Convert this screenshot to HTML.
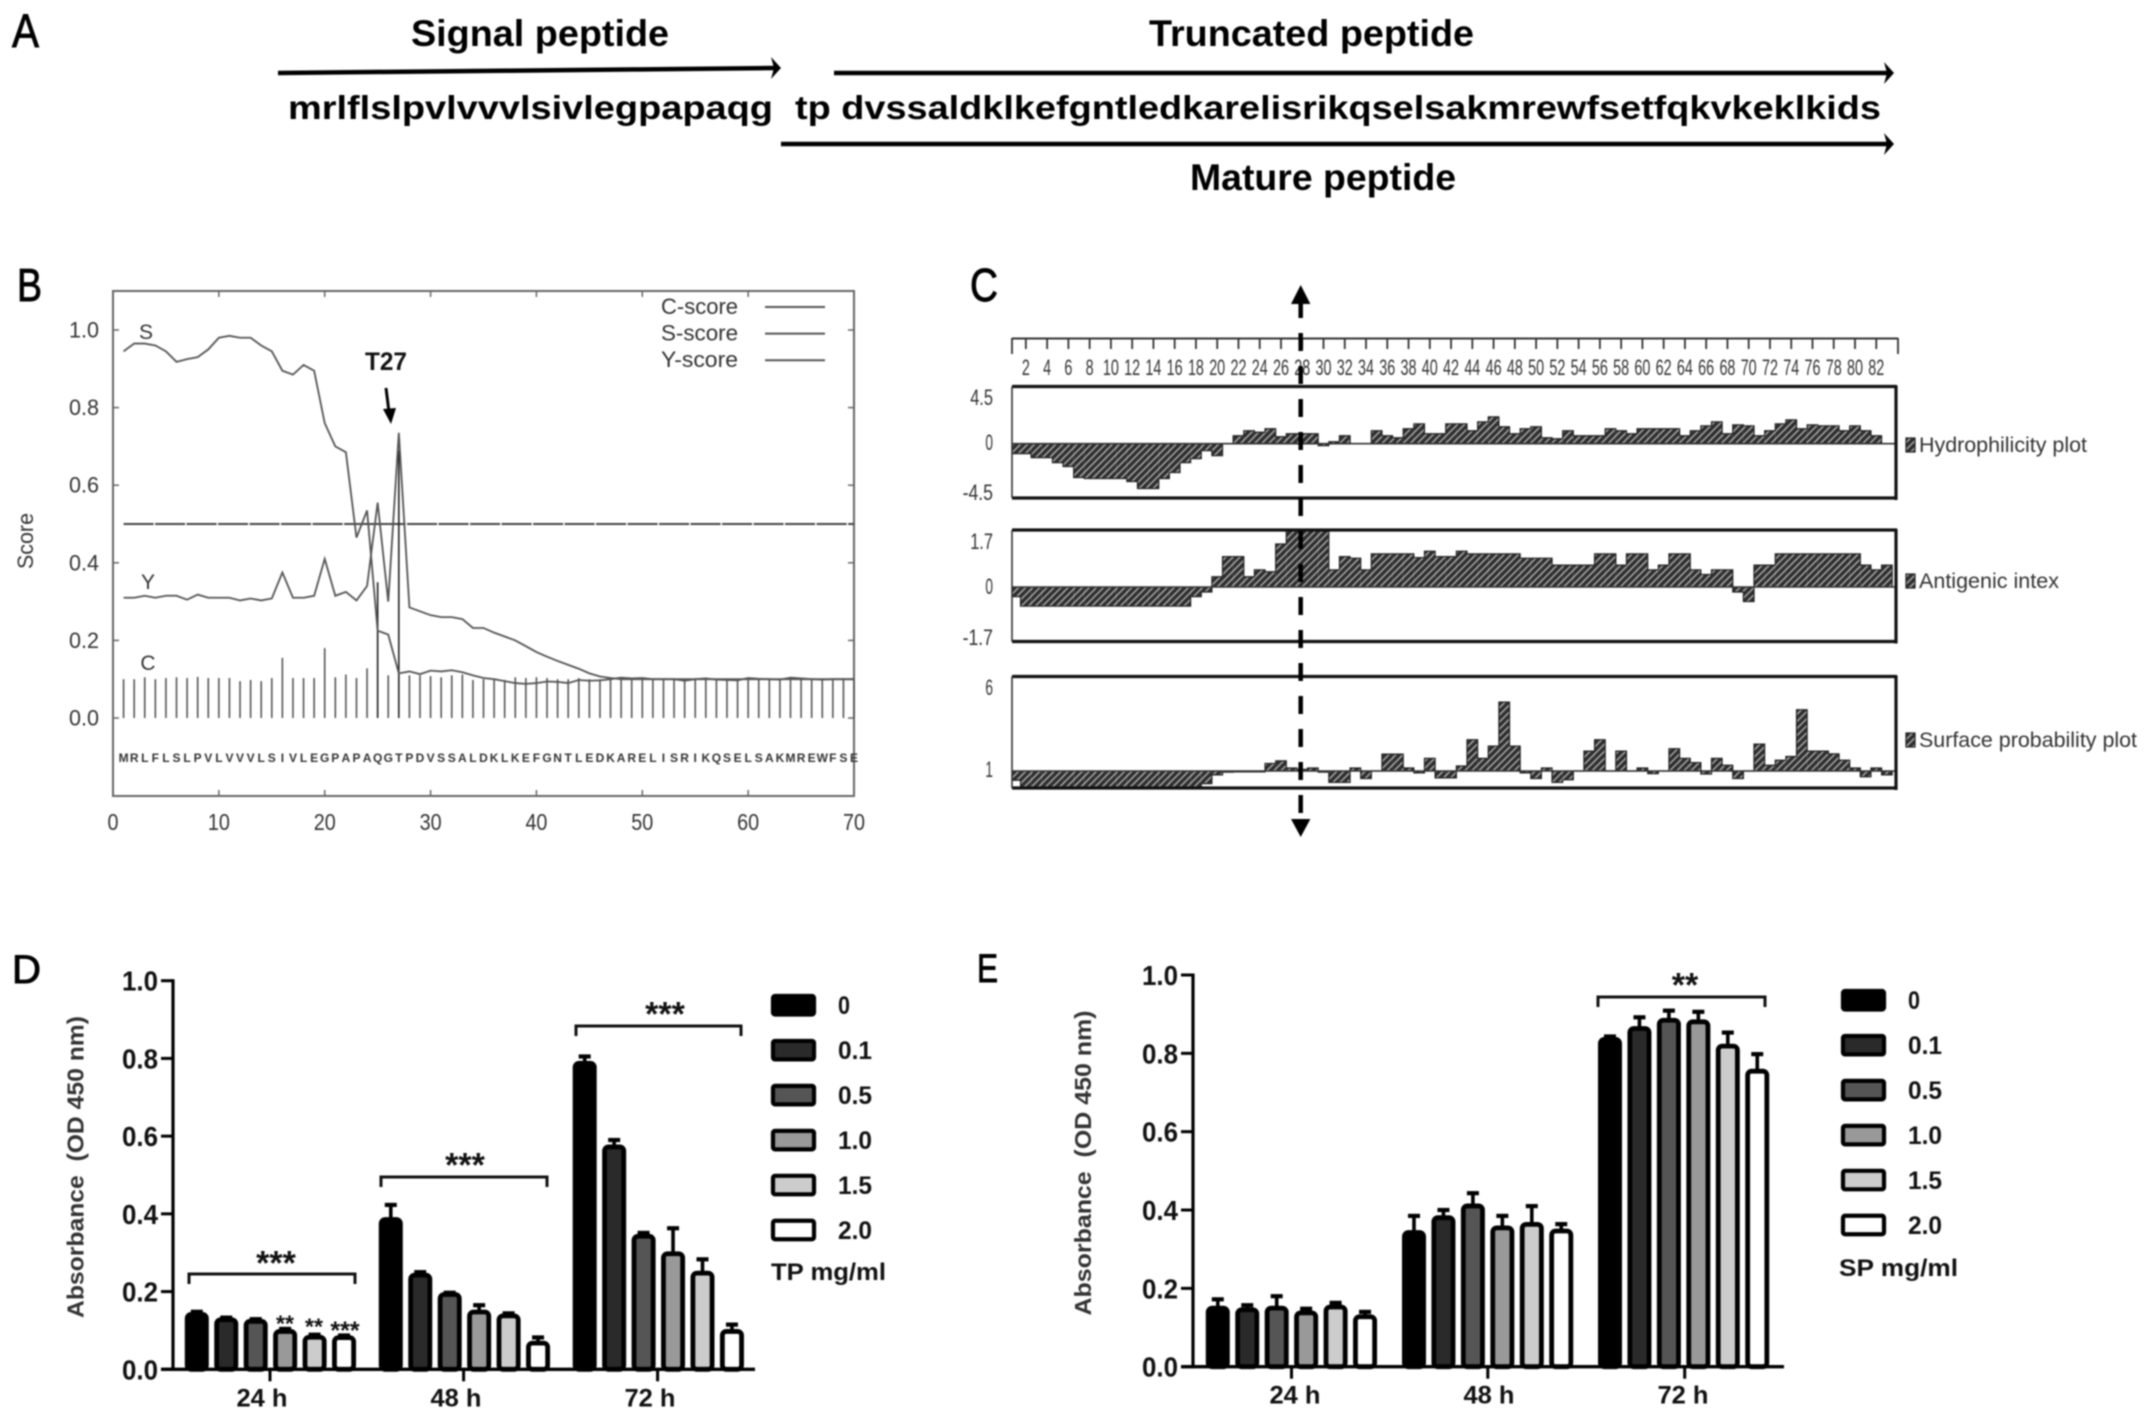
<!DOCTYPE html>
<html lang="en">
<head>
<meta charset="utf-8">
<title>Peptide analysis figure</title>
<style>
html,body{margin:0;padding:0;background:#fff;}
body{width:2150px;height:1421px;overflow:hidden;}
svg{display:block;filter:blur(0.7px);}
text{font-family:"Liberation Sans",sans-serif;}
</style>
</head>
<body>
<svg id="fig" xmlns="http://www.w3.org/2000/svg" width="2150" height="1421" viewBox="0 0 2150 1421">
<defs>
<pattern id="hatch" width="5" height="5" patternUnits="userSpaceOnUse" patternTransform="rotate(45)">
<rect width="5" height="5" fill="#2e2e2e"></rect>
<rect x="0" y="0" width="1.5" height="5" fill="#a8a8a8"></rect>
</pattern>
</defs>
<rect width="2150" height="1421" fill="#fff"></rect>

<g id="panel-a" fill="#000">
<text x="12" y="47" font-size="47" stroke="#000" stroke-width="0.9" textLength="27" lengthAdjust="spacingAndGlyphs">A</text>
<text x="411" y="46" font-size="37" font-weight="bold" textLength="258" lengthAdjust="spacingAndGlyphs">Signal peptide</text>
<text x="1149" y="46" font-size="37" font-weight="bold" textLength="325" lengthAdjust="spacingAndGlyphs">Truncated peptide</text>
<text x="1190" y="190" font-size="37" font-weight="bold" textLength="266" lengthAdjust="spacingAndGlyphs">Mature peptide</text>
<text x="288" y="119" font-size="33" font-weight="bold" textLength="485" lengthAdjust="spacingAndGlyphs">mrlflslpvlvvvlsivlegpapaqg</text>
<text x="795" y="119" font-size="33" font-weight="bold" textLength="1086" lengthAdjust="spacingAndGlyphs">tp dvssaldklkefgntledkarelisrikqselsakmrewfsetfqkvkeklkids</text>
<g>
<line x1="278" y1="73" x2="776" y2="68" stroke="#000" stroke-width="4.5"></line>
<polygon points="781,68 771,57 774,68 771,79"></polygon>
</g>
<g>
<line x1="834" y1="73" x2="1888" y2="73" stroke="#000" stroke-width="4.5"></line>
<polygon points="1894,73 1884,62 1887,73 1884,84"></polygon>
</g>
<g>
<line x1="781" y1="144" x2="1888" y2="144" stroke="#000" stroke-width="4.5"></line>
<polygon points="1894,144 1884,133 1887,144 1884,155"></polygon>
</g>
</g>

<g id="panel-b"></g>
<g id="panel-c"></g>
<g id="panel-d"></g>
<g id="panel-e"></g>
</svg>

<script>
/* ---------- Panel B data ---------- */
const bPositions = [1,2,3,4,5,6,7,8,9,10,11,12,13,14,15,16,17,18,19,20,21,22,23,24,25,26,27,28,29,30,31,32,33,34,35,36,37,38,39,40,41,42,43,44,45,46,47,48,49,50,51,52,53,54,55,56,57,58,59,60,61,62,63,64,65,66,67,68,69,70];
const bSScore = [.945,.965,.965,.96,.945,.918,.925,.93,.95,.98,.985,.98,.98,.96,.945,.895,.885,.91,.895,.76,.70,.685,.465,.535,.225,.215,.115,.12,.113,.122,.12,.123,.118,.11,.103,.10,.095,.09,.088,.09,.094,.093,.09,.098,.096,.097,.10,.104,.102,.103,.10,.10,.10,.096,.10,.102,.099,.098,.097,.103,.101,.10,.099,.104,.102,.10,.099,.10,.10,.10];
const bYScore = [.31,.31,.315,.31,.315,.315,.305,.318,.31,.31,.31,.303,.308,.303,.308,.375,.31,.31,.315,.41,.315,.325,.303,.34,.555,.30,.735,.285,.275,.265,.26,.26,.255,.232,.232,.22,.21,.20,.185,.17,.158,.147,.137,.127,.115,.107,.103,.10,.10,.10,.10,.10,.10,.10,.10,.10,.10,.10,.10,.10,.10,.10,.10,.10,.10,.10,.10,.10,.10,.10];
const bCScore = [.10,.10,.105,.10,.103,.105,.103,.106,.103,.103,.103,.095,.098,.095,.103,.155,.103,.103,.103,.18,.105,.112,.103,.128,.35,.11,.69,.11,.11,.108,.105,.11,.112,.098,.10,.10,.098,.105,.103,.105,.103,.10,.10,.103,.10,.10,.102,.10,.10,.103,.10,.10,.10,.098,.10,.10,.10,.10,.10,.10,.10,.10,.10,.10,.10,.10,.10,.10,.10,.10];
const bThreshold = [0.5];
const bXTicks = [0,10,20,30,40,50,60,70];
const bYTicks = [0,0.2,0.4,0.6,0.8,1.0];
const bResidues = "MRLFLSLPVLVVVLSIVLEGPAPAQGTPDVSSALDKLKEFGNTLEDKARELISRIKQSELSAKMREWFSE".split("");
const bLegend = ["C-score","S-score","Y-score"];

/* ---------- Panel C data ---------- */
const cRulerLabels = [2,4,6,8,10,12,14,16,18,20,22,24,26,28,30,32,34,36,38,40,42,44,46,48,50,52,54,56,58,60,62,64,66,68,70,72,74,76,78,80,82];
const cHydro = [-1,-1,-1.4,-1.4,-1.9,-2.3,-3.4,-3.5,-3.5,-3.5,-3.5,-3.8,-4.5,-4.5,-3.5,-2.9,-1.9,-1.5,-.7,-1.2,0,.8,1.3,1.15,1.5,.7,1,1,1,-.2,.2,.8,0,0,1.3,.8,.6,1.5,2,1,1,2,2,1.3,2.2,2.7,1.7,1,1.5,1.7,.6,.5,1.3,.8,.8,.8,1.5,1.3,1,1.5,1.5,1.5,1.5,.8,1.3,1.8,2.2,1,1.9,1.8,.8,1.3,2,2.4,1.5,1.9,1.8,1.8,1.3,1.8,1.3,.8,0];
const cAntigenic = [-.29,-.58,-.58,-.58,-.58,-.58,-.58,-.58,-.58,-.58,-.58,-.58,-.58,-.58,-.58,-.58,-.58,-.29,-.15,.31,.92,.92,.31,.52,.46,1.3,1.7,1.7,1.7,1.7,.52,.92,.87,.52,1,1,1,1,.89,1.08,.92,.92,1.08,1,1,1,1,1,.87,.87,.87,.66,.66,.66,.66,1,1,.66,1,1,.52,.66,1,1,.52,.38,.52,.52,-.15,-.44,.66,.66,1,1,1,1,1,1,1,1,.66,.52,.66];
const cSurface = [.45,.02,.02,.02,.02,.02,.02,.02,.02,.02,.02,.02,.02,.02,.02,.02,.02,.02,.25,.77,.93,.95,.95,.95,1.45,1.6,1.18,1.1,1.18,.93,.32,.32,1.18,.55,1,2,2,1.18,.89,1.75,.59,.59,1.3,2.86,1.75,2.48,5.09,2.48,.89,.55,1.18,.32,.48,1,2.18,2.86,1,2.18,1,1.18,.84,1,2.32,1.75,1.5,.82,1.75,1.34,.55,1,2.6,1.34,1.64,1.86,4.64,2.18,2.18,2.02,1.64,1.18,.66,1.18,.77];
const cHydroTicks = [4.5,0,-4.5];
const cAntigenicTicks = [1.7,0,-1.7];
const cSurfaceTicks = [6,1];

/* ---------- Panel D / E data ---------- */
const timeLabels = ["24 h","48 h","72 h"];
const doseLabels = ["0","0.1","0.5","1.0","1.5","2.0"];
const doseFills = ["#000000","#2a2a2a","#555555","#999999","#cccccc","#ffffff"];
const barTicks = [0,0.2,0.4,0.6,0.8,1.0];

const dVals24 = [.144,.13,.126,.10,.085,.084];
const dVals48 = [.388,.245,.195,.15,.14,.07];
const dVals72 = [.79,.575,.345,.30,.25,.10];
const dErr24 = [.004,.003,.003,.004,.004,.003];
const dErr48 = [.035,.005,.002,.015,.004,.012];
const dErr72 = [.015,.015,.006,.063,.033,.015];

const eVals24 = [.152,.148,.152,.14,.155,.13];
const eVals48 = [.345,.383,.413,.357,.366,.349];
const eVals72 = [.838,.866,.887,.883,.821,.757];
const eErr24 = [.02,.009,.028,.008,.008,.01];
const eErr48 = [.04,.017,.03,.028,.044,.015];
const eErr72 = [.005,.026,.022,.023,.032,.041];

const NS = "http://www.w3.org/2000/svg";
function mk(parent, tag, attrs, content){
  const n = document.createElementNS(NS, tag);
  for (const k in attrs) n.setAttribute(k, attrs[k]);
  if (content !== undefined) n.textContent = content;
  parent.appendChild(n);
  return n;
}
function fmt(v){ return v.toFixed(1); }

/* ---------- Panel B ---------- */
(function(){
  const g = document.getElementById("panel-b");
  const x = v => 113 + v * 10.586;
  const y = v => 718 - v * 388;
  const GREY = "#555";

  const letter = mk(g,"text",{x:17,y:301,"font-size":46,stroke:"#000","stroke-width":0.9,textLength:25,lengthAdjust:"spacingAndGlyphs",fill:"#000"},"B");
  
  

  const frame = mk(g,"rect",{x:113,y:291,width:741,height:505,fill:"none",stroke:"#666","stroke-width":2});
  
  

  bXTicks.forEach(t=>{
    const a = mk(g,"line",{x1:x(t),x2:x(t),y1:796,y2:790,stroke:"#666","stroke-width":1.5});
    
    
    const a2 = mk(g,"line",{x1:x(t),x2:x(t),y1:291,y2:297,stroke:"#666","stroke-width":1.5});
    
    
    const l = mk(g,"text",{x:x(t),y:830,"font-size":23,"text-anchor":"middle",fill:"#333",textLength:t===0?11:22,lengthAdjust:"spacingAndGlyphs"},String(t));
    
    
  });
  bYTicks.forEach(t=>{
    const a = mk(g,"line",{x1:113,x2:119,y1:y(t),y2:y(t),stroke:"#666","stroke-width":1.5});
    
    
    const a2 = mk(g,"line",{x1:854,x2:848,y1:y(t),y2:y(t),stroke:"#666","stroke-width":1.5});
    
    
    const l = mk(g,"text",{x:99,y:y(t)+7.5,"font-size":22,"text-anchor":"end",fill:"#333",textLength:30,lengthAdjust:"spacingAndGlyphs"},fmt(t));
    
    
  });

  const yt = mk(g,"text",{x:26,y:548,"font-size":22,"text-anchor":"middle",fill:"#333",transform:"rotate(-90 26 541)",textLength:56,lengthAdjust:"spacingAndGlyphs"},"Score");
  
  

  bThreshold.forEach(t=>{
    const l = mk(g,"line",{x1:x(1),x2:x(70),y1:y(t),y2:y(t),stroke:"#444","stroke-width":2,"stroke-dasharray":"30 1.5"});
    
    
  });

  bCScore.forEach((v,i)=>{
    const s = mk(g,"line",{x1:x(bPositions[i]),x2:x(bPositions[i]),y1:y(0),y2:y(v),stroke:v>.3?"#222":"#555","stroke-width":1.6});
    
    
  });

  const sLine = mk(g,"polyline",{fill:"none",stroke:GREY,"stroke-width":1.8,points:bSScore.map((v,i)=>x(bPositions[i])+","+y(v)).join(" ")});
  
  
  const yLine = mk(g,"polyline",{fill:"none",stroke:GREY,"stroke-width":1.8,points:bYScore.map((v,i)=>x(bPositions[i])+","+y(v)).join(" ")});
  
  

  bResidues.forEach((c,i)=>{
    const t = mk(g,"text",{x:x(bPositions[i]),y:762,"font-size":12,"font-weight":"bold","text-anchor":"middle",fill:"#333"},c);
    
    
  });

  const lbS = mk(g,"text",{x:146,y:339,"font-size":21,"text-anchor":"middle",fill:"#333"},"S");
  
  
  const lbY = mk(g,"text",{x:148,y:589,"font-size":21,"text-anchor":"middle",fill:"#333"},"Y");
  
  
  const lbC = mk(g,"text",{x:148,y:670,"font-size":21,"text-anchor":"middle",fill:"#333"},"C");
  
  

  bLegend.forEach((name,i)=>{
    const ly = 307 + i * 26.6;
    const t = mk(g,"text",{x:661,y:ly+7,"font-size":22,fill:"#333",textLength:77,lengthAdjust:"spacingAndGlyphs"},name);
    
    
    const l = mk(g,"line",{x1:765,x2:825,y1:ly,y2:ly,stroke:GREY,"stroke-width":2});
    
    
  });

  const t27 = mk(g,"text",{x:386,y:370,"font-size":25,"font-weight":"bold","text-anchor":"middle",fill:"#111",textLength:42,lengthAdjust:"spacingAndGlyphs"},"T27");
  
  
  const ar = mk(g,"line",{x1:386,y1:388,x2:389,y2:412,stroke:"#000","stroke-width":3});
  
  
  const ah = mk(g,"polygon",{points:"391,424 383,409 396,408",fill:"#000"});
  
  
})();

/* ---------- Panel C ---------- */
(function(){
  const g = document.getElementById("panel-c");
  const xc = i => 1004.6 + 10.63 * i;

  const letter = mk(g,"text",{x:970,y:301,"font-size":46,stroke:"#000","stroke-width":0.9,textLength:28,lengthAdjust:"spacingAndGlyphs",fill:"#000"},"C");
  
  

  const rl = mk(g,"line",{x1:1012,x2:1898,y1:338.5,y2:338.5,stroke:"#333","stroke-width":2});
  
  
  [1012,1898].forEach(px=>{
    const e = mk(g,"line",{x1:px,x2:px,y1:338,y2:354,stroke:"#333","stroke-width":1.8});
    
    
  });
  cRulerLabels.forEach(n=>{
    const a = mk(g,"line",{x1:xc(n),x2:xc(n),y1:338,y2:349,stroke:"#333","stroke-width":1.8});
    
    
    const s = String(n);
    const t = mk(g,"text",{x:xc(n),y:375,"font-size":22,"text-anchor":"middle",fill:"#333",textLength:s.length>1?16:8,lengthAdjust:"spacingAndGlyphs"},s);
    
    
  });

  function plot(cfg){
    const top = cfg.top, bottom = cfg.bottom, y = cfg.y, base = cfg.base;
    const clip = mk(g,"clipPath",{id:cfg.id+"-clip"});
    mk(clip,"rect",{x:1012,y:top,width:884,height:bottom-top});
    const marks = mk(g,"g",{"clip-path":"url(#"+cfg.id+"-clip)"});
    
    
    let d = "M1012 "+base;
    cfg.values.forEach((v,i)=>{
      const n = i + 1;
      const h = y(v);
      const x0 = Math.max(1012, xc(n)-5.315);
      const x1 = xc(n)+5.315;
      const r = mk(marks,"rect",{x:x0,y:Math.min(h,base),width:x1-x0,height:Math.abs(h-base),fill:"url(#hatch)"});
      
      
      d += " L"+x0+" "+h+" L"+x1+" "+h;
    });
    d += " L"+(xc(cfg.values.length)+5.315)+" "+base;
    const o = mk(marks,"path",{d:d,fill:"none",stroke:"#222","stroke-width":1.2});
    
    
    const bl = mk(g,"line",{x1:1012,x2:1896,y1:base,y2:base,stroke:"#333","stroke-width":1.6});
    
    

    const tl = mk(g,"line",{x1:1012,x2:1897,y1:top,y2:top,stroke:"#111","stroke-width":3.2});
    
    
    const bo = mk(g,"line",{x1:1012,x2:1897,y1:bottom,y2:bottom,stroke:"#111","stroke-width":3.2});
    
    
    const le = mk(g,"line",{x1:1012,x2:1012,y1:top,y2:bottom,stroke:"#333","stroke-width":1.6});
    
    
    const ri = mk(g,"line",{x1:1896,x2:1896,y1:top-1,y2:bottom+2,stroke:"#111","stroke-width":3.2});
    
    

    cfg.ticks.forEach((t,i)=>{
      const s = String(t);
      const tx = mk(g,"text",{x:993,y:cfg.tickY[i]+8,"font-size":22,"text-anchor":"end",fill:"#333",textLength:s.length*7.6,lengthAdjust:"spacingAndGlyphs"},s);
      
      
    });

    const sw = mk(g,"rect",{x:1906,y:cfg.legendY-7,width:9,height:14,fill:"url(#hatch)",stroke:"#222","stroke-width":1.2});
    
    
    const lt = mk(g,"text",{x:1919,y:cfg.legendY+7,"font-size":21,fill:"#333",textLength:cfg.legendW,lengthAdjust:"spacingAndGlyphs"},cfg.legend);
    
    
  }

  plot({id:"hydrophilicity",values:cHydro,top:386.5,bottom:498,base:443.7,y:v=>443.7-v*9.95,ticks:cHydroTicks,tickY:[397,442,492],legend:"Hydrophilicity plot",legendY:445,legendW:168});
  plot({id:"antigenic",values:cAntigenic,top:530,bottom:641.5,base:587,y:v=>587-v*33.1,ticks:cAntigenicTicks,tickY:[541,586,637],legend:"Antigenic intex",legendY:581,legendW:140});
  plot({id:"surface",values:cSurface,top:676.5,bottom:788,base:771,y:v=>771-(v-1)*16.84,ticks:cSurfaceTicks,tickY:[687,769],legend:"Surface probability plot",legendY:740,legendW:218});

  const dash = mk(g,"line",{x1:1300.7,x2:1300.7,y1:300,y2:822,stroke:"#000","stroke-width":4.5,"stroke-dasharray":"18 15"});
  
  
  const up = mk(g,"polygon",{points:"1300.7,285 1291,304 1310.4,304",fill:"#000"});
  
  
  const dn = mk(g,"polygon",{points:"1300.7,837 1291,819 1310.4,819",fill:"#000"});
  
  
})();

/* ---------- Panels D & E ---------- */
function barPanel(cfg){
  const g = document.getElementById(cfg.gid);
  const y = v => cfg.y0 - v * cfg.unit;

  const letter = mk(g,"text",{x:cfg.letterX,y:cfg.letterY,"font-size":40,stroke:"#000","stroke-width":0.9,textLength:cfg.letterW,lengthAdjust:"spacingAndGlyphs",fill:"#000"},cfg.letter);
  
  

  cfg.groups.forEach((vals,gi)=>{
    vals.forEach((v,i)=>{
      const bx = cfg.groupX[gi] + i * 29.45;
      const cx = bx + 12;
      const top = y(v + cfg.errs[gi][i]);
      const st = mk(g,"line",{x1:cx,x2:cx,y1:y(v),y2:top,stroke:"#000","stroke-width":3.6});
      
      
      const cp = mk(g,"line",{x1:cx-6,x2:cx+6,y1:top,y2:top,stroke:"#000","stroke-width":4.2});
      
      
      const r = mk(g,"rect",{x:bx+2.4,y:y(v)+1,width:19.2,height:y(0)-y(v)-1,rx:4,fill:doseFills[i],stroke:"#000","stroke-width":4.8});
      
      
    });
  });

  const ya = mk(g,"line",{x1:cfg.axisX,x2:cfg.axisX,y1:y(1)-1.5,y2:y(0)+1.5,stroke:"#000","stroke-width":3.2});
  
  
  const xa = mk(g,"line",{x1:cfg.axisX-12,x2:cfg.axisEnd,y1:y(0),y2:y(0),stroke:"#000","stroke-width":3.4});
  
  

  barTicks.forEach(t=>{
    const a = mk(g,"line",{x1:cfg.axisX-12,x2:cfg.axisX,y1:y(t),y2:y(t),stroke:"#000","stroke-width":3});
    
    
    const l = mk(g,"text",{x:cfg.axisX-15,y:y(t)+10,"font-size":28,"font-weight":"bold","text-anchor":"end",fill:"#111",textLength:36,lengthAdjust:"spacingAndGlyphs"},fmt(t));
    
    
  });

  timeLabels.forEach((lab,i)=>{
    const a = mk(g,"line",{x1:cfg.tickX[i],x2:cfg.tickX[i],y1:y(0),y2:y(0)+12,stroke:"#000","stroke-width":3});
    
    
    const l = mk(g,"text",{x:cfg.labelX[i],y:y(0)+37,"font-size":25,"font-weight":"bold","text-anchor":"middle",fill:"#111",textLength:51,lengthAdjust:"spacingAndGlyphs"},lab);
    
    
  });

  const title = "Absorbance\u00A0\u00A0(OD 450 nm)";
  const tt = mk(g,"text",{x:cfg.titleX,y:cfg.titleY+8,"font-size":23,"font-weight":"bold","text-anchor":"middle",fill:"#333",transform:"rotate(-90 "+cfg.titleX+" "+cfg.titleY+")",textLength:cfg.titleLen,lengthAdjust:"spacingAndGlyphs"},title);
  
  

  cfg.brackets.forEach(b=>{
    const p = mk(g,"path",{d:"M"+b[0]+" "+(b[2]+10)+" V"+b[2]+" H"+b[1]+" V"+(b[2]+10),fill:"none",stroke:"#111","stroke-width":3});
    
    
  });
  cfg.stars.forEach(s=>{
    const t = mk(g,"text",{x:s[0],y:s[1]+s[3]*0.55,"font-size":s[3],"font-weight":"bold","text-anchor":"middle",fill:"#111"},s[2]);
    
    
  });

  doseLabels.forEach((lab,i)=>{
    const ly = cfg.legY + i * 44.95;
    const r = mk(g,"rect",{x:cfg.legX+2,y:ly-9,width:cfg.legW-4,height:18.5,rx:2,fill:doseFills[i],stroke:"#000","stroke-width":4.2});
    
    
    const t = mk(g,"text",{x:cfg.legTextX,y:ly+9,"font-size":25,"font-weight":"bold",fill:"#111",textLength:lab.length>1?34:12,lengthAdjust:"spacingAndGlyphs"},lab);
    
    
  });
  const u = mk(g,"text",{x:cfg.unitX,y:cfg.unitY+8,"font-size":24,"font-weight":"bold",fill:"#111",textLength:cfg.unitW,lengthAdjust:"spacingAndGlyphs"},cfg.unit_text);
  
  
}

barPanel({gid:"panel-d",letter:"D",letterX:12,letterY:983,letterW:29,y0:1369.3,unit:388.6,axisX:173,axisEnd:755,
  groups:[dVals24,dVals48,dVals72],errs:[dErr24,dErr48,dErr72],groupX:[184.8,378.8,572.7],
  tickX:[270,463.6,657.6],labelX:[262,456,650],titleX:75.5,titleY:1167,titleLen:302,
  brackets:[[189,355,1274],[381,547,1177],[576,741,1026]],
  stars:[[276,1256,"***",34],[465,1158,"***",34],[665,1007,"***",34],[285,1319,"**",23],[314,1322,"**",23],[345,1325,"***",25]],
  legX:771,legW:45,legY:1005,legTextX:838,unitX:771,unitY:1272,unitW:115,unit_text:"TP mg/ml"});

barPanel({gid:"panel-e",letter:"E",letterX:977,letterY:982,letterW:21,y0:1366.7,unit:391.7,axisX:1193,axisEnd:1784,
  groups:[eVals24,eVals48,eVals72],errs:[eErr24,eErr48,eErr72],groupX:[1205.8,1402,1598],
  tickX:[1291.5,1487.8,1684.7],labelX:[1295,1489,1683],titleX:1083,titleY:1163,titleLen:305,
  brackets:[[1598,1765,997]],
  stars:[[1685,978,"**",34]],
  legX:1841,legW:45,legY:1000,legTextX:1908,unitX:1839,unitY:1268,unitW:119,unit_text:"SP mg/ml"});
</script>
</body>
</html>
